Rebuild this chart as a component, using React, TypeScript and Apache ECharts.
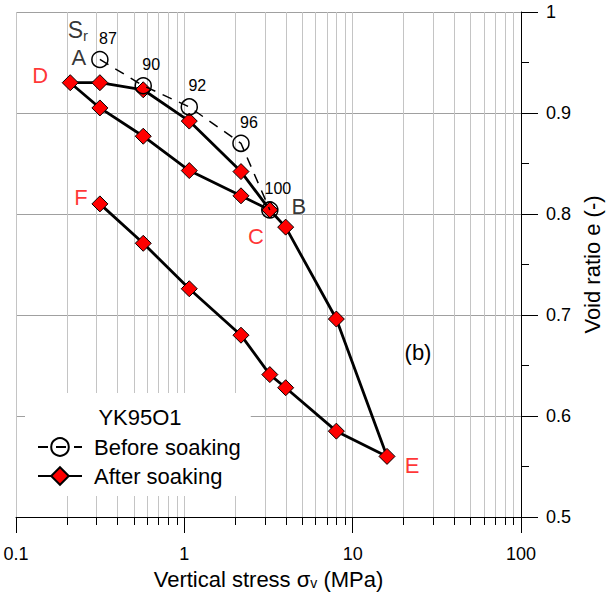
import React, { useEffect, useRef } from "react";
import * as echarts from "echarts";

// ---- data ----
// Before soaking (open circles, dashed line)
const beforeStress = [0.315, 0.57, 1.07, 2.17, 3.22];
const beforeVoid = [0.953, 0.927, 0.906, 0.87, 0.804];
const saturation = ["87", "90", "92", "96", "100"];

// After soaking (red diamonds, solid line) — drawn as one continuous path
const afterStress = [3.22, 2.17, 1.07, 0.57, 0.315, 0.21, 0.315, 0.57, 1.07, 2.17, 3.22, 4.0, 8.0, 16.0, 8.0, 4.0, 3.22, 2.17, 1.07, 0.57, 0.315];
const afterVoid = [0.804, 0.818, 0.843, 0.877, 0.905, 0.93, 0.93, 0.923, 0.892, 0.842, 0.804, 0.787, 0.696, 0.56, 0.585, 0.628, 0.641, 0.68, 0.726, 0.771, 0.81];

// minor log grid positions
const minorStress = [0.2, 0.3, 0.4, 0.5, 0.6, 0.7, 0.8, 0.9, 2, 3, 4, 5, 6, 7, 8, 9, 20, 30, 40, 50, 60, 70, 80, 90];

const xTicks = [0.1, 1, 10, 100];
const yMin = 0.5;
const yMax = 1.0;

// point letters attached to data points
const pointLetters = [
  { text: "A", series: "before", index: 0, offset: [-21, -2], color: "#000000" },
  { text: "B", series: "before", index: 4, offset: [29, -3], color: "#000000" },
  { text: "D", series: "after", index: 5, offset: [-30, -7], color: "#ff0000" },
  { text: "C", series: "after", index: 0, offset: [-14, 27], color: "#ff0000" },
  { text: "E", series: "after", index: 13, offset: [25, 9], color: "#ff0000" },
  { text: "F", series: "after", index: 20, offset: [-19, -6], color: "#ff0000" },
];

const FONT = '"Liberation Sans", Arial, Helvetica, sans-serif';

export default function App() {
  const ref = useRef<HTMLDivElement>(null);

  useEffect(() => {
    document.body.style.margin = "0";
    if (!ref.current) return;
    const chart = echarts.init(ref.current, null, { renderer: "svg" });

    const beforeData = beforeStress.map((x, i) => ({
      value: [x, beforeVoid[i]],
      label: {
        show: true,
        position: "inside",
        formatter: saturation[i],
        offset: [8, -21],
        fontSize: 16,
        color: "#000",
        fontFamily: FONT,
      },
    }));

    const afterData = afterStress.map((x, i) => [x, afterVoid[i]]);

    const letterData: any[] = pointLetters.map((p) => {
      const v =
        p.series === "before"
          ? [beforeStress[p.index], beforeVoid[p.index]]
          : [afterStress[p.index], afterVoid[p.index]];
      return {
        value: v,
        label: {
          show: true,
          position: "inside",
          formatter: p.text,
          offset: p.offset,
          fontSize: 22,
          color: p.color,
          fontFamily: FONT,
        },
      };
    });
    // S_r label above point A
    letterData.push({
      value: [beforeStress[0], beforeVoid[0]],
      label: {
        show: true,
        position: "inside",
        formatter: "{s|S}{r|r}",
        offset: [-22, -29],
        fontSize: 22,
        color: "#000",
        fontFamily: FONT,
        rich: {
          s: { fontSize: 23, lineHeight: 26, fontFamily: FONT, color: "#000" },
          r: { fontSize: 15, lineHeight: 12, verticalAlign: "bottom", fontFamily: FONT, color: "#000" },
        },
      },
    });

    const option: any = {
      animation: false,
      backgroundColor: "#ffffff",
      grid: { left: 16, right: 90, top: 12, bottom: 77, outerBoundsMode: "none", containLabel: false },
      xAxis: {
        type: "log",
        logBase: 10,
        min: xTicks[0],
        max: xTicks[xTicks.length - 1],
        position: "bottom",
        name: "{a|Vertical stress σ}{v|v}{a| (MPa)}",
        nameLocation: "middle",
        nameGap: 51,
        nameTextStyle: {
          fontFamily: FONT,
          color: "#000",
          rich: {
            a: { fontSize: 22, lineHeight: 22, fontFamily: FONT, color: "#000" },
            v: { fontSize: 14, lineHeight: 8, verticalAlign: "bottom", fontFamily: FONT, color: "#000" },
          },
        },
        axisLine: { show: true, lineStyle: { color: "#000", width: 1 } },
        axisTick: { show: true, length: 16, lineStyle: { color: "#000", width: 1 } },
        minorTick: { show: false },
        axisLabel: { fontSize: 18, color: "#000", fontFamily: FONT, margin: 28 },
        splitLine: { show: true, lineStyle: { color: "#c4c4c4", width: 1 } },
      },
      yAxis: {
        type: "value",
        position: "right",
        min: yMin,
        max: yMax,
        interval: 0.1,
        name: "Void ratio e (-)",
        nameLocation: "middle",
        nameGap: 57,
        nameRotate: 90,
        nameTextStyle: { fontSize: 22, fontFamily: FONT, color: "#000" },
        axisLine: { show: true, lineStyle: { color: "#000", width: 1 } },
        axisTick: { show: true, length: 17, lineStyle: { color: "#000", width: 1 } },
        minorTick: { show: true, splitNumber: 2, length: 8, lineStyle: { color: "#000", width: 1 } },
        minorSplitLine: { show: false },
        axisLabel: { fontSize: 18, color: "#000", fontFamily: FONT, margin: 25 },
        splitLine: { show: true, lineStyle: { color: "#a0a0a0", width: 1 } },
      },
      legend: {
        data: ["Before soaking", "After soaking"],
        orient: "vertical",
        left: 25,
        top: 393,
        backgroundColor: "#ffffff",
        padding: [43, 10, 9, 12],
        itemWidth: 44,
        itemHeight: 22,
        itemGap: 7,
        selectedMode: false,
        textStyle: { fontSize: 22, color: "#000", fontFamily: FONT, padding: [0, 0, 0, 7] },
      },
      graphic: [
        {
          type: "text",
          z: 100,
          x: 140,
          y: 417,
          style: {
            text: "YK95O1",
            fontSize: 22,
            fontFamily: FONT,
            fill: "#000",
            textAlign: "center",
            textVerticalAlign: "middle",
          },
        },
        {
          type: "text",
          z: 100,
          x: 418,
          y: 352,
          style: {
            text: "(b)",
            fontSize: 22,
            fontFamily: FONT,
            fill: "#000",
            textAlign: "center",
            textVerticalAlign: "middle",
          },
        },
      ],
      series: [
        {
          type: "custom",
          name: "minorGrid",
          silent: true,
          z: 1,
          clip: false,
          data: minorStress.map((v) => [v, yMin]),
          encode: { x: 0, y: 1 },
          renderItem: (params: any, api: any) => {
            const x = api.value(0);
            const top = api.coord([x, yMax]);
            const bot = api.coord([x, yMin]);
            const px = Math.round(top[0]) + 0.5;
            return {
              type: "group",
              children: [
                {
                  type: "line",
                  shape: { x1: px, y1: top[1], x2: px, y2: bot[1] },
                  style: { stroke: "#c4c4c4", lineWidth: 1 },
                },
                {
                  type: "line",
                  shape: { x1: px, y1: bot[1], x2: px, y2: bot[1] + 8 },
                  style: { stroke: "#000", lineWidth: 1 },
                },
              ],
            };
          },
        },
        {
          type: "line",
          name: "After soaking",
          z: 3,
          data: afterData,
          symbol: "diamond",
          symbolSize: 16,
          showAllSymbol: true,
          lineStyle: { color: "#000", width: 2.8 },
          itemStyle: { color: "#ff0000", borderColor: "#000", borderWidth: 1 },
        },
        {
          type: "line",
          name: "Before soaking",
          z: 4,
          data: beforeData,
          symbol: "circle",
          symbolSize: 16,
          showAllSymbol: true,
          lineStyle: { color: "#000", width: 1.5, type: [10, 8] },
          itemStyle: { color: "rgba(0,0,0,0)", borderColor: "#000", borderWidth: 1.5 },
        },
        {
          type: "scatter",
          name: "labels",
          z: 5,
          silent: true,
          symbolSize: 1,
          itemStyle: { color: "rgba(0,0,0,0)" },
          data: letterData,
        },
      ],
    };

    chart.setOption(option);
    return () => chart.dispose();
  }, []);

  return <div ref={ref} style={{ width: 611, height: 594 }} />;
}
